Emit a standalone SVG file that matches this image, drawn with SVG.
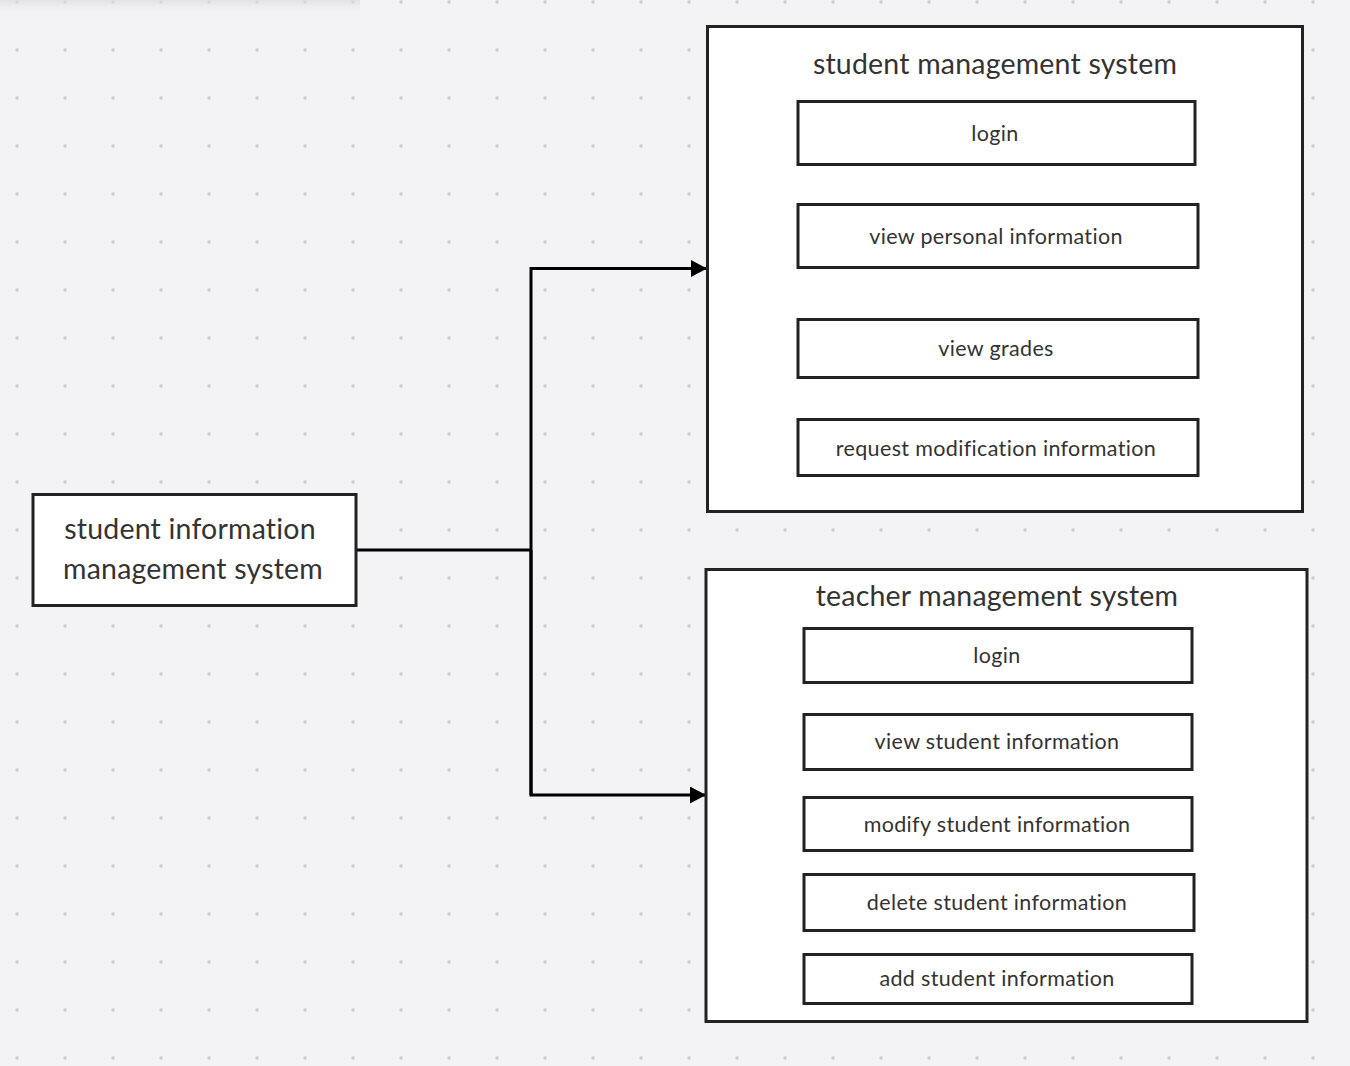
<svg xmlns="http://www.w3.org/2000/svg" width="1350" height="1066" viewBox="0 0 1350 1066">
<defs>
  <pattern id="dots" x="0" y="0" width="48" height="48" patternUnits="userSpaceOnUse">
    <rect x="15.5" y="0.5" width="3" height="3" fill="#cbcbcf"/>
  </pattern>
  <linearGradient id="shade" x1="0" y1="0" x2="0" y2="1">
    <stop offset="0" stop-color="#dcdce0" stop-opacity="0.7"/>
    <stop offset="1" stop-color="#f3f3f5" stop-opacity="0"/>
  </linearGradient>
  <marker id="arrow" markerWidth="16" markerHeight="17" refX="16" refY="8.5" orient="auto" markerUnits="userSpaceOnUse">
    <path d="M0,0 L16,8.5 L0,17 Z" fill="#000"/>
  </marker>
  <style>
    .box { fill: #ffffff; stroke: #222222; stroke-width: 3; }
    .t { font-family: Lato, "Open Sans", sans-serif; fill: #333333; text-anchor: middle; }
    .big { font-size: 28.5px; letter-spacing: 0.2px; }
    .small { font-size: 21.5px; letter-spacing: 0.35px; }
    .conn { fill: none; stroke: #000000; stroke-width: 3; }
  </style>
</defs>
<rect width="1350" height="1066" fill="#f3f3f5"/>
<rect width="1350" height="1066" fill="url(#dots)"/>
<rect x="0" y="0" width="360" height="16" fill="url(#shade)"/>

<g id="connectors">
  <polyline class="conn" points="356,550 531,550"/>
  <polyline class="conn" points="531,795 531,268.5 707,268.5" marker-end="url(#arrow)"/>
  <polyline class="conn" points="531,550 531,795 706,795" marker-end="url(#arrow)"/>
</g>

<g id="root">
  <rect class="box" x="33" y="494.5" width="323" height="111"/>
  <text class="t big" x="190" y="539">student information</text>
  <text class="t big" x="193" y="579">management system</text>
</g>

<g id="student-system">
  <rect class="box" x="707.5" y="26.5" width="595" height="485"/>
  <text class="t big" x="995" y="74">student management system</text>
</g>
<g id="s-login">
  <rect class="box" x="798" y="101.5" width="397" height="63"/>
  <text class="t small" x="995" y="141">login</text>
</g>
<g id="s-view-personal">
  <rect class="box" x="798" y="204.5" width="400" height="63"/>
  <text class="t small" x="996" y="244">view personal information</text>
</g>
<g id="s-view-grades">
  <rect class="box" x="798" y="319.5" width="400" height="58"/>
  <text class="t small" x="996" y="356">view grades</text>
</g>
<g id="s-request">
  <rect class="box" x="798" y="419.5" width="400" height="56"/>
  <text class="t small" x="996" y="456">request modification information</text>
</g>

<g id="teacher-system">
  <rect class="box" x="706" y="569.5" width="601" height="452"/>
  <text class="t big" x="997" y="606">teacher management system</text>
</g>
<g id="t-login">
  <rect class="box" x="804" y="628.5" width="388" height="54"/>
  <text class="t small" x="997" y="663">login</text>
</g>
<g id="t-view">
  <rect class="box" x="804" y="714.5" width="388" height="55"/>
  <text class="t small" x="997" y="749">view student information</text>
</g>
<g id="t-modify">
  <rect class="box" x="804" y="797.5" width="388" height="53"/>
  <text class="t small" x="997" y="832">modify student information</text>
</g>
<g id="t-delete">
  <rect class="box" x="804" y="874.5" width="390" height="56"/>
  <text class="t small" x="997" y="910">delete student information</text>
</g>
<g id="t-add">
  <rect class="box" x="804" y="954.5" width="388" height="49"/>
  <text class="t small" x="997" y="986">add student information</text>
</g>
</svg>
